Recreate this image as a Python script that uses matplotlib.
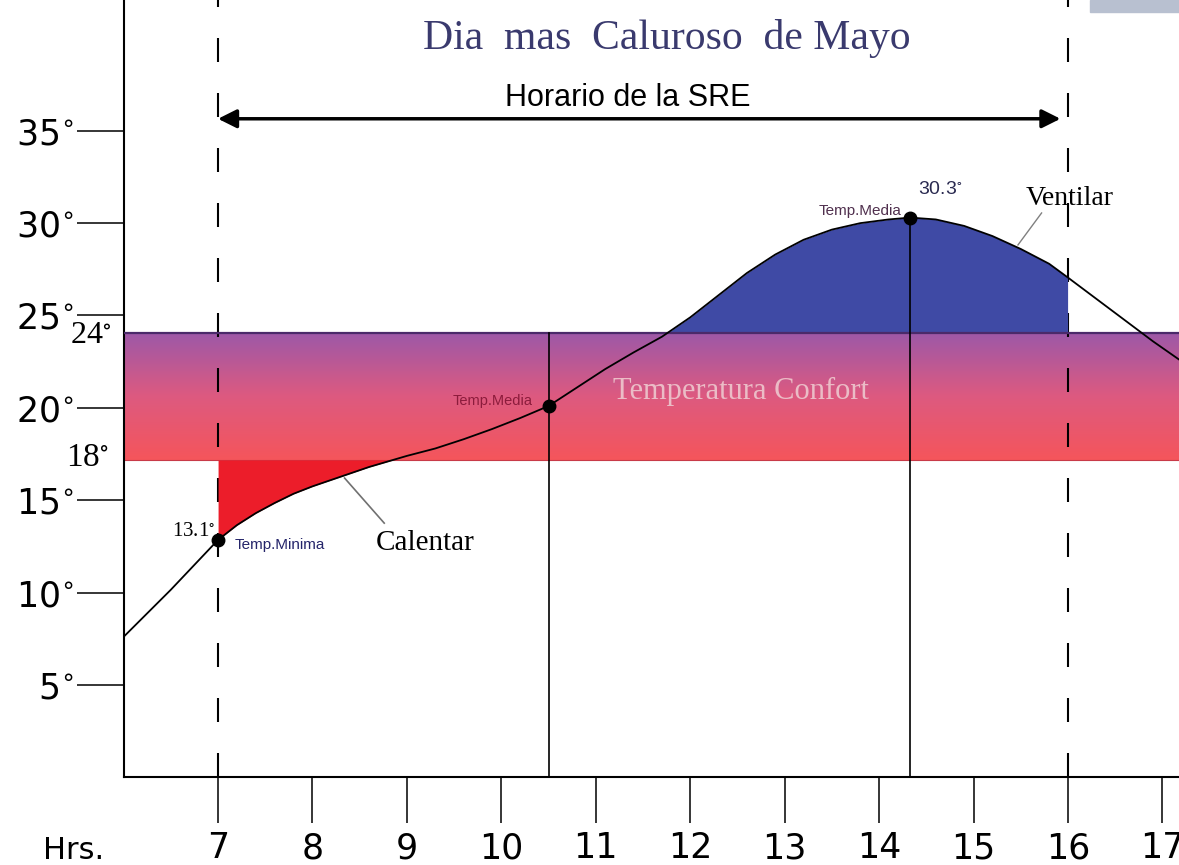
import numpy as np
import matplotlib
matplotlib.use("Agg")
from matplotlib import pyplot as plt
from matplotlib.colors import LinearSegmentedColormap
from matplotlib.patches import Rectangle

# temperature curve (hour, degrees C)
hours = [6.0, 6.5, 7.0, 7.2, 7.4, 7.6, 7.8, 8.0, 8.2, 8.4, 8.6, 8.8, 9.0, 9.3, 9.6,
         9.9, 10.2, 10.5, 10.8, 11.1, 11.4, 11.7, 12.0, 12.3, 12.6, 12.9, 13.2, 13.5,
         13.8, 14.1, 14.33, 14.6, 14.9, 15.2, 15.5, 15.8, 16.0, 16.3, 16.6, 16.9, 17.18]
temps = [7.6, 10.15, 12.85, 13.65, 14.3, 14.85, 15.35, 15.75, 16.1, 16.45, 16.8, 17.1,
         17.4, 17.8, 18.3, 18.85, 19.45, 20.1, 21.1, 22.1, 23.0, 23.85, 24.9, 26.1,
         27.3, 28.3, 29.1, 29.65, 30.0, 30.2, 30.3, 30.2, 29.85, 29.3, 28.6, 27.8,
         27.05, 25.9, 24.75, 23.6, 22.6]

# marked points: minimum, mean, maximum
key_hours = [7.0, 10.5, 14.33]
key_temps = [12.85, 20.1, 30.3]

comfort_low = 17.18
comfort_high = 24.06
sre_start = 7
sre_end = 16

x_ticks = [7, 8, 9, 10, 11, 12, 13, 14, 15, 16, 17]
y_ticks = [5, 10, 15, 20, 25, 30, 35]


def deg(s):
    return r"$\mathregular{" + s + r"^{\circ}}$"


y_labels = [deg(str(v)) for v in y_ticks]

fig = plt.figure(figsize=(11.79, 8.65), dpi=100)
ax = fig.add_axes([0.1048, 0.1014, 0.8952, 0.8986])
xmax = 17.175
ymax = 42.08

# comfort band with vertical gradient
band_cmap = LinearSegmentedColormap.from_list("band", ["#f5555b", "#dd5a80", "#9c58a8"])
grad = np.linspace(0, 1, 256).reshape(-1, 1)
ax.imshow(grad, extent=[6, xmax, comfort_low, comfort_high], aspect="auto",
          cmap=band_cmap, origin="lower", zorder=1)
ax.plot([6, xmax], [comfort_high, comfort_high], color="#4a2a6a", lw=1.6, zorder=4)
ax.plot([6, xmax], [comfort_low, comfort_low], color="#c83a48", lw=0.8, zorder=2)
ax.text(12.54, 20.87, "Temperatura Confort", family="Liberation Serif", fontsize=22,
        color="#ebbcc6", ha="center", va="center", zorder=2)

# fills (heating / ventilation)
h = np.array(hours)
t = np.array(temps)
xx = np.linspace(6, xmax, 2000)
yy = np.interp(xx, h, t)
hot = (yy >= comfort_high) & (xx <= sre_end)
ax.fill_between(xx, comfort_high, yy, where=hot, color="#3f4aa5", lw=0, zorder=3)
cold = (yy <= comfort_low) & (xx >= sre_start)
ax.fill_between(xx, yy, comfort_low, where=cold, color="#ec1d2a", lw=0, zorder=3)

# dashed schedule lines
for xv in [sre_start, sre_end]:
    ax.plot([xv, xv], [0, ymax], color="black", lw=1.5,
            dashes=(24 * 0.72 / 1.5, 31 * 0.72 / 1.5), zorder=2.5)

# solid lines at mean and max
ax.plot([key_hours[1], key_hours[1]], [0, comfort_high], color="black", lw=1.2, zorder=4)
ax.plot([key_hours[2], key_hours[2]], [0, key_temps[2]], color="black", lw=1.2, zorder=4)

ax.plot(hours, temps, color="black", lw=1.3, zorder=5)
ax.plot(key_hours, key_temps, "o", color="black", ms=9, zorder=6)

# arrow for SRE schedule
ax.annotate("", xy=(sre_start, 35.65), xytext=(15.92, 35.65),
            arrowprops=dict(arrowstyle="<|-|>", lw=2.5, color="black",
                            mutation_scale=28, shrinkA=0, shrinkB=0))
ax.text(11.34, 36.75, "Horario de la SRE", family="Liberation Sans", fontsize=22,
        ha="center", va="center")
ax.text(11.75, 40.0, "Dia  mas  Caluroso  de Mayo", family="Liberation Serif",
        fontsize=30, color="#3a3a6e", ha="center", va="center")

# annotations
ax.text(7.18, 12.6, "Temp.Minima", family="Liberation Sans", fontsize=11,
        color="#25256a", ha="left", va="center", zorder=6)
ax.text(6.97, 13.3, deg("13.1"), family="Liberation Serif", fontsize=15,
        ha="right", va="center", zorder=6)
ax.text(10.33, 20.37, "Temp.Media", family="Liberation Sans", fontsize=10.5,
        color="#8c1c3c", ha="right", va="center", zorder=6)
ax.text(14.24, 30.66, "Temp.Media", family="Liberation Sans", fontsize=11,
        color="#50304e", ha="right", va="center", zorder=6)
ax.text(14.41, 31.8, deg("30.3"), family="Liberation Sans", fontsize=14,
        color="#2a2a50", ha="left", va="center", zorder=6)
ax.text(16.02, 31.36, "Ventilar", family="Liberation Serif", fontsize=20,
        ha="center", va="center", zorder=6)
ax.plot([15.72, 15.47], [30.55, 28.82], color="#808080", lw=1, zorder=6)
ax.text(9.19, 12.68, "Calentar", family="Liberation Serif", fontsize=21,
        ha="center", va="center", zorder=6)
ax.plot([8.76, 8.34], [13.76, 16.2], color="#707070", lw=1.2, zorder=6)

ax.text(5.62, 17.3, deg("18"), family="Liberation Serif", fontsize=24,
        ha="center", va="center", clip_on=False)
ax.text(5.65, 23.9, deg("24"), family="Liberation Serif", fontsize=23,
        ha="center", va="center", clip_on=False)
ax.text(5.47, -3.94, "Hrs.", family="DejaVu Sans", fontsize=22,
        ha="center", va="center", clip_on=False)

# axes
ax.set_xlim(6, xmax)
ax.set_ylim(0, ymax)
for s in ["top", "right"]:
    ax.spines[s].set_visible(False)
for s in ["left", "bottom"]:
    ax.spines[s].set_linewidth(1.5)
ax.set_xticks(x_ticks)
ax.set_xticklabels([str(v) for v in x_ticks])
ax.set_yticks(y_ticks)
ax.set_yticklabels(y_labels)
ax.tick_params(axis="x", direction="out", length=33, width=1.1, pad=6, labelsize=25)
ax.tick_params(axis="y", direction="out", length=34, width=1.1, pad=2, labelsize=25)

fig.add_artist(Rectangle((1090 / 1179, 1 - 12 / 865), 89 / 1179, 12 / 865,
                         transform=fig.transFigure, color="#b8c0d0"))

fig.savefig("out.png", dpi=100)
